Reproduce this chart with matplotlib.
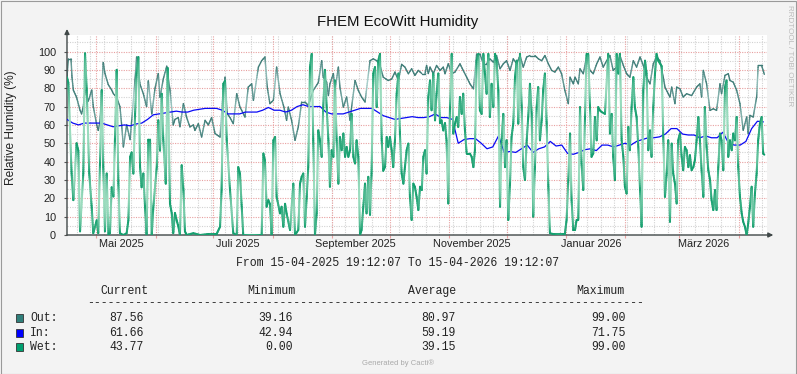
import numpy as np
import matplotlib
matplotlib.use("Agg")
import matplotlib.pyplot as plt
from matplotlib.patches import Rectangle
from matplotlib.collections import LineCollection
from matplotlib.colors import to_rgb
from datetime import datetime, timedelta

start = datetime(2025, 4, 15, 19, 12, 7)
end = datetime(2026, 4, 15, 19, 12, 7)

# (days since start, % humidity)
out_points = [
    (0, 86), (0.7, 96), (2.1, 96), (2.6, 86), (3.3, 79), (5.0, 75), (6.8, 68), (7.6, 66), (8.5, 70),
    (9.4, 79), (11.1, 73), (12.9, 79), (13.7, 70), (15.5, 60), (16.3, 57), (17.2, 62), (18.9, 94),
    (19.8, 88), (21.5, 82), (23.3, 79), (24.2, 77), (25.9, 75), (27.6, 70), (28.5, 60), (29.4, 48),
    (31.1, 60), (32.9, 52), (33.7, 62), (35.5, 85), (36.3, 97), (38.1, 82), (39.8, 77), (41.5, 70),
    (42.4, 84), (44.2, 66), (45.9, 80), (47.6, 88), (48.5, 75), (50.2, 85), (52.0, 92), (53.7, 79),
    (55.4, 60), (56.3, 63), (58.0, 64), (58.9, 59), (60.7, 71.6), (62.4, 64), (64.1, 58.9), (65.9, 60),
    (66.7, 57), (68.5, 60.7), (70.2, 53.4), (72.0, 62.5), (73.7, 60), (75.4, 64), (77.2, 55.3),
    (79.8, 53.4), (81.2, 75), (82.4, 86), (83.6, 66), (85.0, 64), (86.7, 60.7), (88.5, 77), (90.2, 69.7),
    (91.1, 67.9), (92.8, 64.3), (94.5, 80.6), (96.3, 82.4), (97.2, 73.4), (99.8, 91.5), (101.5, 95),
    (103.2, 97), (104.5, 80), (105.8, 71.6), (107.6, 73.4), (109.3, 91.5), (111.1, 77), (113.1, 69.7),
    (114.5, 62.5), (115.4, 69.7), (117.1, 62.5), (118.9, 51.6), (120.6, 58.9), (122.35, 72.5),
    (124.1, 72.5), (125.8, 70.6), (128.4, 78.8), (131.0, 83), (132.8, 95), (133.6, 86), (135.4, 83.3),
    (136.3, 76), (137.1, 82.4), (138.9, 88), (139.7, 78.8), (141.5, 91.5), (142.3, 80.6), (144.1, 69.7),
    (145.8, 75.2), (147.6, 62.5), (148.4, 69.7), (150.2, 84.2), (151.9, 78.8), (153.6, 75.2),
    (155.4, 72.5), (158.0, 95), (159.7, 96), (161.5, 95), (163.2, 92.4), (164.9, 86), (167.5, 84.2),
    (169.3, 85), (171.0, 88.8), (172.8, 84.2), (174.5, 93), (176.2, 91.5), (178.0, 87.9), (179.7, 90.6),
    (181.4, 87), (183.2, 89.7), (185.0, 88), (186.7, 88), (187.5, 92.4), (188.4, 88), (189.3, 91.5),
    (191.0, 87.9), (192.7, 92.4), (194.5, 89.7), (196.2, 91.5), (197.1, 87.9), (198.8, 93.3),
    (200.6, 87.9), (202.3, 88.8), (204.9, 93.3), (206.6, 89.7), (208.4, 86), (210.1, 82.4), (211.9, 79.7),
    (213.6, 98.7), (215.3, 98.7), (217.1, 93.3), (218.8, 93.3), (220.5, 96), (222.3, 94.2), (224.0, 97.8),
    (225.8, 90.6), (227.5, 93.3), (229.2, 95), (231.0, 89.7), (232.7, 96), (234.5, 93.3), (236.2, 97.8),
    (237.9, 91.5), (239.7, 97), (241.4, 97.8), (244.0, 97.8), (245.8, 96), (247.5, 95), (249.2, 97.8),
    (251.0, 93.3), (252.7, 89.7), (254.4, 88.8), (256.2, 91.5), (257.9, 87.9), (259.6, 78.8),
    (261.4, 71.6), (262.3, 86), (264.0, 82.4), (264.9, 86), (266.6, 82.4), (267.5, 90.6), (269.2, 87.9),
    (270.9, 97), (272.7, 89.7), (274.4, 87.9), (276.2, 93.3), (277.9, 97), (279.6, 91.5), (281.4, 95),
    (283.1, 97.8), (284.8, 89.7), (286.6, 91.5), (288.3, 97.8), (290.1, 92.4), (291.8, 87.9), (293.5, 86),
    (295.3, 95), (297.0, 91.5), (298.8, 97), (300.5, 92.4), (302.2, 86), (304.0, 82.4), (305.7, 93.3),
    (307.4, 97), (309.2, 95), (310.9, 86), (311.8, 80.6), (313.5, 77), (314.4, 75.2), (315.3, 80.6),
    (317.0, 71.6), (317.9, 80.6), (319.6, 79.7), (321.3, 75.2), (323.1, 77), (325.7, 76), (328.3, 80.6),
    (330.0, 82.4), (330.9, 75.2), (331.8, 89.7), (333.5, 82.4), (335.3, 67.9), (337.0, 68.8),
    (338.7, 67.9), (340.5, 82.4), (341.3, 77), (343.1, 87), (344.8, 87.9), (345.7, 84.2), (347.4, 83.3),
    (349.2, 78.8), (350.9, 71.6), (352.6, 57.1), (354.4, 64.3), (355.2, 55.3), (356.1, 65.2),
    (357.8, 64.3), (359.6, 75.2), (360.4, 92.4), (362.2, 92.4), (363.6, 87.56),
]

# In: one sample every 3 days
in_step = 3
in_vals = [63, 61, 60, 61, 61, 61, 61, 60, 59, 59.5, 60, 59.5, 60.5, 61, 63, 65.5, 66, 66.5, 67, 67.5,
           67, 67, 68, 68.5, 69, 69, 69, 68, 66, 66, 66, 67, 67, 67, 68, 69.5, 68, 68, 67, 68,
           70, 71, 70, 70, 70, 67, 66, 66, 66, 67, 68, 69, 69, 69, 67, 65, 64, 63, 63.5, 64,
           64.5, 64, 64, 64.5, 66, 64, 64, 63, 50, 52, 52.5, 52.5, 50, 47, 48, 54, 45, 45.5, 45, 47,
           49, 45, 47, 48, 51, 48.5, 49, 44.5, 44, 45, 46.5, 47, 46, 49, 49, 48, 49, 50, 49, 51,
           52, 53, 53, 53.5, 55, 58, 58, 55, 54.5, 54.5, 53, 54, 53, 53, 56, 50, 49, 49, 51, 58,
           62, 61.66]

wet_points = [
    (0, 86), (0.7, 83), (2.4, 33.5), (3.3, 19), (5.0, 50), (5.9, 46), (6.8, 2), (8.5, 33.5), (9.4, 99),
    (10.3, 79), (11.6, 33.5), (12.9, 15), (13.7, 1), (15.5, 8), (16.3, 1), (17.2, 39), (18.1, 79),
    (18.9, 37), (19.8, 2), (20.7, 33.5), (21.6, 0), (22.4, 1), (23.3, 26), (24.2, 21), (25.0, 52),
    (25.9, 90), (26.8, 28), (27.6, 1), (29.4, 0), (31.1, 1), (32.0, 8), (32.9, 42.6), (33.7, 45),
    (34.6, 33.5), (35.5, 66), (36.3, 88), (37.2, 97), (38.1, 37), (38.9, 26), (39.8, 33.5), (40.7, 15),
    (41.5, 0), (42.4, 52), (43.3, 52), (44.2, 0), (45.0, 15), (46.8, 37), (47.6, 62.5), (48.5, 46),
    (49.4, 77), (50.2, 52), (51.5, 28), (52.5, 91), (53.7, 17), (54.6, 12), (55.4, 1), (56.3, 12),
    (57.2, 8), (58.1, 4.5), (58.9, 0), (59.8, 38), (60.7, 24.5), (61.5, 2), (62.4, 0), (65.9, 1),
    (69.4, 0), (73.7, 0.5), (78.0, 0.5), (79.8, 4.5), (80.6, 24.5), (81.5, 82.4), (82.4, 84),
    (83.3, 51.6), (85.0, 24.5), (86.7, 1), (88.5, 0), (89.3, 37), (90.2, 33.5), (91.1, 15.4), (91.9, 0),
    (101.5, 0), (102.4, 44.4), (103.2, 40.8), (104.1, 15.4), (105.0, 19), (105.8, 17), (106.7, 0),
    (107.6, 51.6), (108.5, 53.4), (109.3, 20.8), (111.1, 11.8), (111.9, 15.4), (112.8, 4.5), (113.7, 17),
    (114.5, 11.8), (116.3, 2.7), (118.0, 28), (118.9, 0), (120.6, 2.7), (121.5, 28), (122.35, 31.7),
    (123.2, 33.5), (124.1, 4.5), (125.0, 20.8), (125.8, 37), (126.7, 91.5), (127.6, 98.7), (128.4, 51.6),
    (129.3, 0), (130.2, 11.8), (131.0, 57), (131.9, 51.6), (132.8, 42.6), (133.6, 69.7), (134.5, 90),
    (135.4, 69.7), (136.3, 51.6), (137.1, 26.3), (138.0, 46.2), (138.9, 42.6), (139.7, 84.2),
    (140.6, 51.6), (141.5, 28), (142.3, 53.4), (143.2, 46.2), (144.1, 55.3), (145.0, 42.6), (145.8, 48),
    (146.7, 42.6), (147.6, 46.2), (148.4, 66), (149.3, 42.6), (150.2, 39), (151.0, 51.6), (151.9, 42.6),
    (152.8, 0), (153.6, 2.7), (154.5, 15.4), (155.4, 28), (156.2, 11.8), (157.1, 31.7), (158.0, 11),
    (158.8, 33.5), (159.7, 88), (160.6, 91.5), (161.5, 69.7), (162.3, 95), (163.2, 98.7), (164.1, 51.6),
    (164.9, 35), (165.8, 37), (166.7, 53.4), (167.5, 48), (168.4, 53.4), (169.3, 46.2), (170.1, 37),
    (171.0, 51.6), (171.9, 77), (172.8, 88), (173.6, 55.3), (174.5, 33.5), (175.4, 28), (176.2, 37),
    (177.1, 46.2), (178.0, 49.8), (178.8, 20.8), (179.7, 8.2), (180.6, 28), (181.4, 26.3), (182.3, 20.8),
    (183.2, 13.6), (184.1, 26.3), (185.0, 24.5), (185.8, 42.6), (186.7, 46.2), (187.5, 33.5),
    (188.4, 75.2), (189.3, 84.2), (190.1, 68), (191.0, 88), (191.9, 62.5), (192.7, 77), (193.6, 88),
    (194.5, 61), (195.3, 62.5), (196.2, 57), (197.1, 61), (197.9, 51.6), (198.8, 17.2), (199.7, 69.7),
    (200.6, 98.7), (201.4, 55.3), (202.3, 60.7), (203.2, 64.3), (204.0, 58.9), (204.9, 75.2), (205.8, 66),
    (206.6, 77), (207.5, 57), (208.4, 44.4), (210.1, 44.4), (211.0, 42.6), (211.9, 37), (212.7, 46.2),
    (213.6, 95), (214.5, 98.7), (215.3, 67.9), (216.2, 66), (217.1, 98.7), (217.9, 88), (218.8, 77),
    (219.7, 98.7), (220.5, 64.3), (221.4, 82.4), (222.3, 69.7), (223.2, 98.7), (224.0, 95), (224.9, 79),
    (225.8, 15.4), (226.6, 51.6), (227.5, 66), (228.4, 37), (229.2, 51.6), (230.1, 8.2), (231.0, 28),
    (231.8, 53.4), (232.7, 60.7), (233.6, 86), (234.5, 95), (235.3, 60.7), (236.2, 98.7), (237.1, 69.7),
    (237.9, 37), (238.8, 30), (239.7, 51.6), (240.5, 64.3), (241.4, 82.4), (242.3, 66), (243.1, 10),
    (244.0, 37), (244.9, 69.7), (245.7, 80.6), (246.6, 51.6), (247.5, 62.5), (248.3, 79), (249.2, 88),
    (250.1, 60.7), (251.0, 26.3), (251.8, 1), (253.6, 0.5), (259.6, 0.5), (260.5, 8.2), (261.4, 29.9),
    (262.3, 55.3), (263.1, 19), (264.0, 2.7), (264.9, 2.7), (265.7, 8.2), (266.6, 8.2), (267.5, 69.7),
    (268.3, 38.9), (269.2, 24.5), (270.1, 64.3), (270.9, 98.7), (271.8, 98.7), (272.7, 69.7),
    (273.5, 42.6), (274.4, 44.4), (275.3, 64.3), (276.2, 51.6), (277.0, 69.7), (277.9, 67.9), (278.8, 67),
    (280.5, 66), (282.2, 98.7), (283.1, 55.3), (284.0, 66), (284.8, 42.6), (285.7, 29.9), (286.6, 98.7),
    (287.5, 88), (288.3, 98.7), (289.2, 51.6), (290.1, 42.6), (290.9, 26.3), (291.8, 22.6), (292.7, 58.9),
    (293.5, 46.2), (294.4, 69.7), (295.3, 86), (296.1, 69.7), (297.0, 64.3), (297.9, 48), (298.8, 24.5),
    (299.6, 4.5), (300.5, 79), (301.4, 95), (302.2, 88), (303.1, 46.2), (304.0, 57), (304.8, 42.6),
    (305.7, 69.7), (306.6, 88), (307.4, 98.7), (308.3, 95), (310.1, 92), (310.9, 53.4), (311.8, 20.8),
    (312.7, 33.5), (313.5, 51.6), (314.4, 7.2), (315.3, 49.8), (316.1, 33.5), (317.0, 28), (317.9, 17.2),
    (318.7, 51.6), (319.6, 55.3), (320.5, 42.6), (321.3, 35.3), (322.2, 48), (323.1, 46.2), (324.0, 37),
    (324.8, 43.5), (325.7, 35.3), (326.6, 37), (327.4, 40.8), (328.3, 51.6), (329.2, 64.3), (330.0, 51.6),
    (330.9, 35.3), (331.8, 20.8), (332.6, 69.7), (333.5, 48), (334.4, 35.3), (335.3, 29.9), (336.1, 19),
    (337.0, 13.6), (337.9, 24.5), (338.7, 13.6), (339.6, 37), (340.5, 55.3), (341.3, 51.6), (342.2, 35.3),
    (343.1, 80.6), (343.9, 84.2), (344.8, 42.6), (345.7, 51.6), (346.6, 46.2), (347.4, 55.3),
    (348.3, 51.6), (349.2, 64.3), (350.0, 37), (350.9, 20.8), (351.8, 11.8), (352.6, 7.2), (353.5, 4.5),
    (354.4, 0), (355.2, 6.3), (356.1, 15.4), (357.0, 26.3), (357.8, 4.5), (358.7, 22.6), (359.6, 33.5),
    (360.4, 51.6), (361.3, 60.7), (362.2, 64.3), (363.0, 44.4), (363.6, 43.77),
]

series_names = ["Out:", "In:", "Wet:"]
series_colors = ["#2F7F7A", "#0000FF", "#00A070"]
stats_current = ["87.56", "61.66", "43.77"]
stats_min = ["39.16", "42.94", "0.00"]
stats_avg = ["80.97", "59.19", "39.15"]
stats_max = ["99.00", "71.75", "99.00"]

month_labels = ["Mai 2025", "Juli 2025", "September 2025", "November 2025", "Januar 2026", "März 2026"]
label_dates = [datetime(2025, 5, 14), datetime(2025, 7, 14), datetime(2025, 9, 13),
               datetime(2025, 11, 13), datetime(2026, 1, 14), datetime(2026, 3, 14)]


def to_days(d):
    return (d - start).total_seconds() / 86400.0


out_days, out_vals = map(np.array, zip(*out_points))
wet_days, wet_vals = map(np.array, zip(*wet_points))
in_days = np.arange(len(in_vals)) * in_step
total = to_days(end)

W, H = 797, 374
px_day = 700 / total
px_pct = 200 / 109


def gradient_line(ax, x, y, dark, light, lw, z, reach):
    # dark at the points, lighter towards the middle of long segments
    dark, light = np.array(to_rgb(dark)), np.array(to_rgb(light))
    segs, cols = [], []
    for i in range(len(x) - 1):
        x0, y0, x1, y1 = x[i], y[i], x[i + 1], y[i + 1]
        L = np.hypot((x1 - x0) * px_day, (y1 - y0) * px_pct)
        n = max(1, int(L / 2))
        ts = np.linspace(0, 1, n + 1)
        k = min(1.0, L / reach)
        for j in range(n):
            tm = 0.5 * (ts[j] + ts[j + 1])
            w = k * np.sin(np.pi * tm) ** 0.7
            segs.append([(x0 + (x1 - x0) * ts[j], y0 + (y1 - y0) * ts[j]),
                         (x0 + (x1 - x0) * ts[j + 1], y0 + (y1 - y0) * ts[j + 1])])
            cols.append(dark * (1 - w) + light * w)
    lc = LineCollection(segs, colors=cols, linewidths=lw, capstyle="round", zorder=z)
    ax.add_collection(lc)


fig = plt.figure(figsize=(W / 100, H / 100), dpi=100)
fig.patch.set_facecolor("#F3F3F3")
fig.patches.append(Rectangle((0.5 / W, 0.5 / H), 1 - 1.5 / W, 1 - 1.5 / H, transform=fig.transFigure,
                             fill=False, edgecolor="#9A9A9A", lw=0.8))

ax = fig.add_axes([67 / W, 1 - 235 / H, 700 / W, 200 / H])
ax.set_facecolor("white")
ax.set_xlim(0, total)
ax.set_ylim(0, 109)
for s in ax.spines.values():
    s.set_visible(False)

# grid: weekly (mondays) minor, monthly major
red = "#E8A0A0"
grey = "#D2D2D2"
dot = (0, (1, 1.2))
d = datetime(2025, 4, 21)
while d < end:
    ax.axvline(to_days(d), color=grey, lw=0.8, ls=dot, zorder=0)
    d += timedelta(days=7)
for y in range(5, 109, 10):
    ax.axhline(y, color=grey, lw=0.8, ls=dot, zorder=0)
month_starts = []
y_, m_ = 2025, 5
while datetime(y_, m_, 1) < end:
    month_starts.append(to_days(datetime(y_, m_, 1)))
    m_ += 1
    if m_ > 12:
        m_, y_ = 1, y_ + 1
for x in month_starts:
    ax.axvline(x, color=red, lw=0.8, ls=dot, zorder=1)
for y in range(10, 101, 10):
    ax.axhline(y, color=red, lw=0.8, ls=dot, zorder=1)

gradient_line(ax, out_days, out_vals, "#33736E", "#A9CFCB", 1.0, 3, 40)
ax.plot(in_days, in_vals, color="#0A0AF5", lw=0.9, zorder=4)
gradient_line(ax, wet_days, wet_vals, "#0A9A68", "#9CDCBF", 1.45, 5, 55)

ax.set_yticks(range(0, 101, 10))
ax.tick_params(axis="y", length=2, width=0.8, color="#555555", pad=6, labelsize=7.8, labelcolor="#222222")
ax.set_xticks(month_starts)
ax.set_xticklabels([""] * len(month_starts))
ax.tick_params(axis="x", which="major", length=2, width=0.8, color=red)
ax.set_xticks([to_days(d) for d in label_dates], minor=True)
ax.set_xticklabels(month_labels, minor=True)
ax.tick_params(axis="x", which="minor", length=0, pad=3, labelsize=7.8, labelcolor="#222222")
for lab in ax.get_xticklabels(minor=True) + ax.get_yticklabels():
    lab.set_family("Liberation Sans")

# axes with arrows
ax.annotate("", xy=(1.009, 0), xytext=(0, 0), xycoords="axes fraction",
            arrowprops=dict(arrowstyle="-|>", color="#404848", lw=1.0, mutation_scale=7, shrinkA=0, shrinkB=0),
            annotation_clip=False)
ax.annotate("", xy=(0, 1.03), xytext=(0, 0), xycoords="axes fraction",
            arrowprops=dict(arrowstyle="-|>", color="#404848", lw=1.0, mutation_scale=7, shrinkA=0, shrinkB=0),
            annotation_clip=False)

ax.set_ylabel("Relative Humidity (%)", family="Liberation Sans", fontsize=8.6, color="#222222")
ax.yaxis.set_label_coords(-(67 - 17) / 700, 0.535)

fig.text(398 / W, 1 - 22 / H, "FHEM EcoWitt Humidity", ha="center", va="center",
         family="Liberation Sans", fontsize=10.8, color="#111111")
fig.text(789 / W, 1 - 56 / H, "RRDTOOL / TOBI OETIKER", ha="center", va="center", rotation=-90,
         family="Liberation Sans", fontsize=5.8, color="#BBBBBB")

mono = dict(family="Liberation Mono", fontsize=8.3, color="#222222", va="center")
fig.text(398 / W, 1 - 263 / H, "From 15-04-2025 19:12:07 To 15-04-2026 19:12:07", ha="center", **mono)
for txt, x in zip(["Current", "Minimum", "Average", "Maximum"], [100, 247, 408, 576]):
    fig.text(x / W, 1 - 291 / H, txt, ha="left", **mono)
fig.text(87 / W, 1 - 303 / H, "-" * 81, ha="left", **mono)
row_y = [318, 333, 347]
for i in range(3):
    yy = 1 - row_y[i] / H
    fig.patches.append(Rectangle((16 / W, yy - 3.8 / H), 7.5 / W, 7.5 / H, transform=fig.transFigure,
                                 facecolor=series_colors[i], edgecolor="#333333", lw=0.6))
    fig.text(30 / W, yy, series_names[i], ha="left", **mono)
    fig.text(144 / W, yy, stats_current[i], ha="right", **mono)
    fig.text(293 / W, yy, stats_min[i], ha="right", **mono)
    fig.text(456 / W, yy, stats_avg[i], ha="right", **mono)
    fig.text(626 / W, yy, stats_max[i], ha="right", **mono)

fig.text(398 / W, 1 - 363 / H, "Generated by Cacti®", ha="center", va="center",
         family="Liberation Sans", fontsize=5.5, color="#AAAAAA")

fig.savefig("out.png", dpi=100, facecolor=fig.get_facecolor())
